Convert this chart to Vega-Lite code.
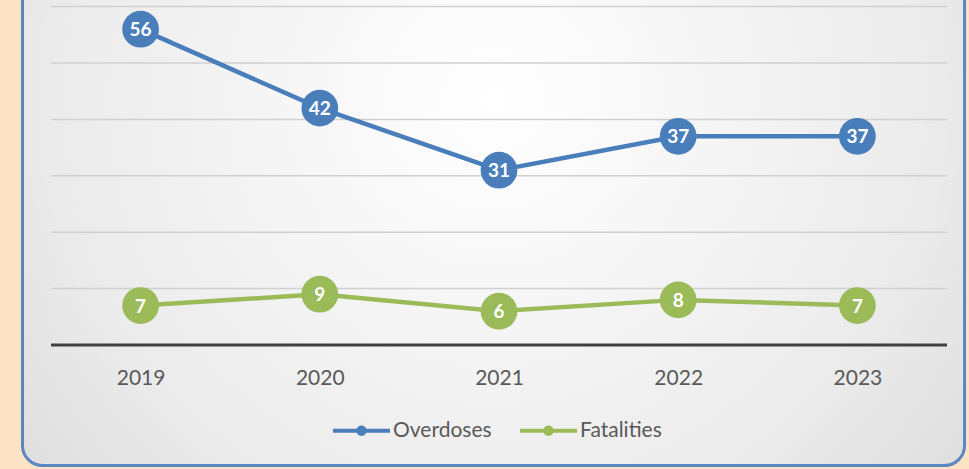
{
  "$schema": "https://vega.github.io/schema/vega-lite/v6.json",
  "width": 949,
  "height": 469,
  "autosize": {"type": "none"},
  "padding": {"left": 20, "top": 0, "right": 0, "bottom": 0},
  "background": "#fde3c6",
  "config": {
    "view": {"stroke": null},
    "font": "Lato",
    "legend": {
      "orient": "none",
      "legendX": 313,
      "legendY": 402,
      "direction": "horizontal",
      "padding": 0,
      "symbolSize": 3249,
      "symbolType": "M-1,-0.07L1,-0.07L1,0.07L-1,0.07Z M-0.18,0A0.18,0.18 0 1,1 0.18,0A0.18,0.18 0 1,1 -0.18,0Z",
      "symbolStrokeWidth": 0,
      "labelFont": "Lato",
      "labelFontSize": 21,
      "labelColor": "#595959",
      "labelOffset": 3,
      "columnPadding": 28
    }
  },
  "datasets": {
    "series": [
      {"year": 2019, "series": "Overdoses", "value": 56},
      {"year": 2020, "series": "Overdoses", "value": 42},
      {"year": 2021, "series": "Overdoses", "value": 31},
      {"year": 2022, "series": "Overdoses", "value": 37},
      {"year": 2023, "series": "Overdoses", "value": 37},
      {"year": 2019, "series": "Fatalities", "value": 7},
      {"year": 2020, "series": "Fatalities", "value": 9},
      {"year": 2021, "series": "Fatalities", "value": 6},
      {"year": 2022, "series": "Fatalities", "value": 8},
      {"year": 2023, "series": "Fatalities", "value": 7}
    ],
    "grid": [{"v": 10}, {"v": 20}, {"v": 30}, {"v": 40}, {"v": 50}, {"v": 60}],
    "panel": [{"name": "panel"}]
  },
  "layer": [
    {
      "data": {"name": "panel"},
      "mark": {
        "type": "rect",
        "clip": true,
        "cornerRadius": 20,
        "stroke": "#5a86c2",
        "strokeWidth": 3,
        "fill": {
          "gradient": "radial",
          "x1": 0.5, "y1": 0.4, "r1": 0,
          "x2": 0.5, "y2": 0.4, "r2": 0.75,
          "stops": [
            {"offset": 0, "color": "#ffffff"},
            {"offset": 0.6, "color": "#ececec"},
            {"offset": 1, "color": "#d6d6d6"}
          ]
        }
      },
      "encoding": {
        "x": {"datum": 2018.341, "type": "quantitative", "scale": {"domain": [2018.327, 2023.6228], "nice": false, "zero": false}, "axis": {
          "orient": "bottom", "offset": -124, "values": [2019, 2020, 2021, 2022, 2023], "format": "d", "zindex": 1,
          "domain": false, "ticks": false, "tickSize": 0, "grid": false, "title": null,
          "labelBaseline": "middle", "labelPadding": 33, "labelFont": "Lato", "labelFontSize": 21, "labelColor": "#595959"
        }},
        "x2": {"datum": 2023.598},
        "y": {"datum": -21.37, "type": "quantitative", "scale": {"domain": [-21.986, 61.17], "nice": false, "zero": false}, "axis": null},
        "y2": {"datum": 75}
      }
    },
    {
      "data": {"name": "grid"},
      "mark": {"type": "rule", "color": "#d0d0d0", "strokeWidth": 1.5},
      "encoding": {
        "x": {"datum": 2018.5, "type": "quantitative"},
        "x2": {"datum": 2023.5},
        "y": {"field": "v", "type": "quantitative"}
      }
    },
    {
      "data": {"values": [{"v": 0}]},
      "mark": {"type": "rule", "color": "#404040", "strokeWidth": 3},
      "encoding": {
        "x": {"datum": 2018.5, "type": "quantitative"},
        "x2": {"datum": 2023.5},
        "y": {"field": "v", "type": "quantitative"}
      }
    },
    {
      "data": {"name": "series"},
      "mark": {"type": "line", "strokeWidth": 4.5, "strokeCap": "round", "strokeJoin": "round"},
      "encoding": {
        "x": {"field": "year", "type": "quantitative"},
        "y": {"field": "value", "type": "quantitative"},
        "color": {"field": "series", "type": "nominal", "scale": {"domain": ["Overdoses", "Fatalities"], "range": ["#4a7ebb", "#9bbb59"]},
          "legend": {"title": null, "encode": {"symbols": {"update": {"fill": {"scale": "color", "field": "value"}, "stroke": {"value": "transparent"}, "strokeWidth": {"value": 0}}}}}}
      }
    },
    {
      "data": {"name": "series"},
      "mark": {"type": "point", "filled": true, "shape": "circle", "size": 1350, "opacity": 1},
      "encoding": {
        "x": {"field": "year", "type": "quantitative"},
        "y": {"field": "value", "type": "quantitative"},
        "color": {"field": "series", "type": "nominal"}
      }
    },
    {
      "data": {"name": "series"},
      "mark": {"type": "text", "color": "#ffffff", "fontWeight": "bold", "fontSize": 19, "font": "Lato", "align": "center", "baseline": "middle", "dy": 1},
      "encoding": {
        "x": {"field": "year", "type": "quantitative"},
        "y": {"field": "value", "type": "quantitative"},
        "text": {"field": "value", "type": "quantitative"}
      }
    }
  ]
}
